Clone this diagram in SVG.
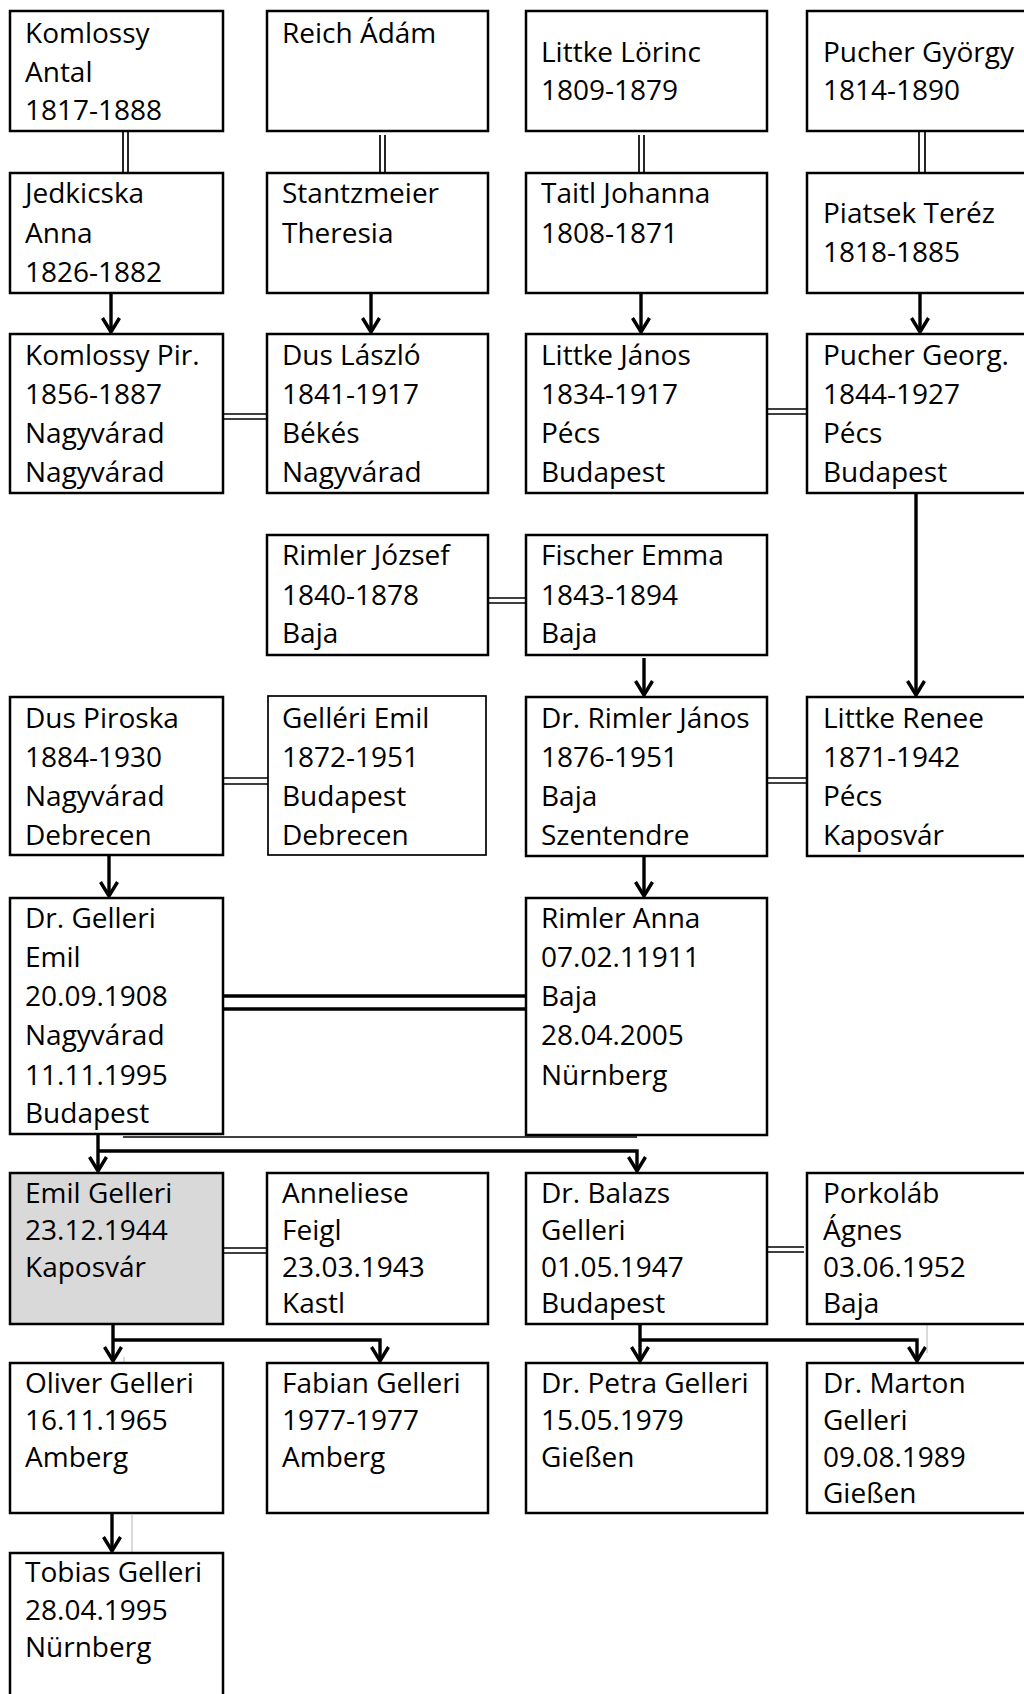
<svg xmlns="http://www.w3.org/2000/svg" width="1024" height="1694" viewBox="0 0 1024 1694">
<style>
.box{fill:#fff;stroke:#000;stroke-width:2.5}
.thin{stroke-width:1.7}
.grey{fill:#d9d9d9}
text{font-family:"Open Sans","Noto Sans","Liberation Sans",sans-serif;font-size:28px;fill:#000}
.arr{fill:none;stroke:#000;stroke-width:3.4;marker-end:url(#ah)}
.dbl{fill:none;stroke:#000;stroke-width:1.7}
.dblk{fill:none;stroke:#000;stroke-width:3.4}
.art{fill:none;stroke:#b4b4b4;stroke-width:1}
</style>
<defs>
<marker id="ah" markerUnits="userSpaceOnUse" viewBox="-18 -12 21 24" refX="0" refY="0" markerWidth="21" markerHeight="24" orient="auto">
<path d="M-14,-8.5 L0,0 L-14,8.5" fill="none" stroke="#000" stroke-width="3.4"/>
</marker>
</defs>
<rect width="1024" height="1694" fill="#fff"/>

<g id="connectors">
<path class="dbl" d="M123,131 V173 M128,131 V173"/>
<path class="dbl" d="M380,135 V174 M385,135 V174"/>
<path class="dbl" d="M639,135 V174 M644,135 V174"/>
<path class="dbl" d="M919,131 V173 M925,131 V173"/>
<path class="dbl" d="M223,414 H267 M223,419 H267"/>
<path class="dbl" d="M767,409 H807 M767,414 H807"/>
<path class="dbl" d="M488,598 H526 M488,603 H526"/>
<path class="dbl" d="M223,778 H268 M223,784 H268"/>
<path class="dbl" d="M767,778 H807 M767,783 H807"/>
<path class="dblk" d="M223,996 H526 M223,1009 H526"/>
<path class="dbl" d="M223,1248 H267 M223,1253 H267"/>
<path class="dbl" d="M767,1247 H804 M767,1252 H804"/>
<path class="arr" d="M111,293 V332"/>
<path class="arr" d="M371,293 V332"/>
<path class="arr" d="M641,293 V332"/>
<path class="arr" d="M920,293 V332"/>
<path class="arr" d="M916,493 V695"/>
<path class="arr" d="M644,658 V695"/>
<path class="arr" d="M109,855 V896"/>
<path class="arr" d="M644,856 V896"/>
<path class="arr" d="M98,1134 V1171"/>
<path class="arr" d="M98,1151 H637 V1171"/>
<path class="arr" d="M113,1324 V1361"/>
<path class="arr" d="M113,1340 H380 V1361"/>
<path class="arr" d="M112,1513 V1551"/>
<path class="arr" d="M640,1324 V1361"/>
<path class="arr" d="M640,1340 H917 V1361"/>
<path fill="none" stroke="#000" stroke-width="1.5" d="M123,1137 H637"/>
<path class="art" d="M124,1357 V1407 M132,1515 V1583 M927,1285 V1353"/>
</g>

<g id="n-komlossy-antal"><rect class="box" x="10" y="11" width="213" height="120"/>
<text x="25" y="43">Komlossy</text><text x="25" y="82">Antal</text><text x="25" y="120">1817-1888</text></g>
<g id="n-reich-adam"><rect class="box" x="267" y="11" width="221" height="120"/>
<text x="282" y="43">Reich Ádám</text></g>
<g id="n-littke-lorinc"><rect class="box" x="526" y="11" width="241" height="120"/>
<text x="541" y="62">Littke Lörinc</text><text x="541" y="100">1809-1879</text></g>
<g id="n-pucher-gyorgy"><rect class="box" x="807" y="11" width="230" height="120"/>
<text x="823" y="62">Pucher György</text><text x="823" y="100">1814-1890</text></g>

<g id="n-jedkicska-anna"><rect class="box" x="10" y="173" width="213" height="120"/>
<text x="25" y="203">Jedkicska</text><text x="25" y="243">Anna</text><text x="25" y="282">1826-1882</text></g>
<g id="n-stantzmeier-theresia"><rect class="box" x="267" y="173" width="221" height="120"/>
<text x="282" y="203">Stantzmeier</text><text x="282" y="243">Theresia</text></g>
<g id="n-taitl-johanna"><rect class="box" x="526" y="173" width="241" height="120"/>
<text x="541" y="203">Taitl Johanna</text><text x="541" y="243">1808-1871</text></g>
<g id="n-piatsek-terez"><rect class="box" x="807" y="173" width="230" height="120"/>
<text x="823" y="223">Piatsek Teréz</text><text x="823" y="262">1818-1885</text></g>

<g id="n-komlossy-pir"><rect class="box" x="10" y="334" width="213" height="159"/>
<text x="25" y="365">Komlossy Pir.</text><text x="25" y="404">1856-1887</text><text x="25" y="443">Nagyvárad</text><text x="25" y="482">Nagyvárad</text></g>
<g id="n-dus-laszlo"><rect class="box" x="267" y="334" width="221" height="159"/>
<text x="282" y="365">Dus László</text><text x="282" y="404">1841-1917</text><text x="282" y="443">Békés</text><text x="282" y="482">Nagyvárad</text></g>
<g id="n-littke-janos"><rect class="box" x="526" y="334" width="241" height="159"/>
<text x="541" y="365">Littke János</text><text x="541" y="404">1834-1917</text><text x="541" y="443">Pécs</text><text x="541" y="482">Budapest</text></g>
<g id="n-pucher-georg"><rect class="box" x="807" y="334" width="230" height="159"/>
<text x="823" y="365">Pucher Georg.</text><text x="823" y="404">1844-1927</text><text x="823" y="443">Pécs</text><text x="823" y="482">Budapest</text></g>

<g id="n-rimler-jozsef"><rect class="box" x="267" y="535" width="221" height="120"/>
<text x="282" y="565">Rimler József</text><text x="282" y="605">1840-1878</text><text x="282" y="643">Baja</text></g>
<g id="n-fischer-emma"><rect class="box" x="526" y="535" width="241" height="120"/>
<text x="541" y="565">Fischer Emma</text><text x="541" y="605">1843-1894</text><text x="541" y="643">Baja</text></g>

<g id="n-dus-piroska"><rect class="box" x="10" y="697" width="213" height="158"/>
<text x="25" y="728">Dus Piroska</text><text x="25" y="767">1884-1930</text><text x="25" y="806">Nagyvárad</text><text x="25" y="845">Debrecen</text></g>
<g id="n-gelleri-emil-1872"><rect class="box thin" x="268" y="696" width="218" height="159"/>
<text x="282" y="728">Gelléri Emil</text><text x="282" y="767">1872-1951</text><text x="282" y="806">Budapest</text><text x="282" y="845">Debrecen</text></g>
<g id="n-rimler-janos"><rect class="box" x="526" y="697" width="241" height="159"/>
<text x="541" y="728">Dr. Rimler János</text><text x="541" y="767">1876-1951</text><text x="541" y="806">Baja</text><text x="541" y="845">Szentendre</text></g>
<g id="n-littke-renee"><rect class="box" x="807" y="697" width="230" height="159"/>
<text x="823" y="728">Littke Renee</text><text x="823" y="767">1871-1942</text><text x="823" y="806">Pécs</text><text x="823" y="845">Kaposvár</text></g>

<g id="n-gelleri-emil-1908"><rect class="box" x="10" y="898" width="213" height="236"/>
<text x="25" y="928">Dr. Gelleri</text><text x="25" y="967">Emil</text><text x="25" y="1006">20.09.1908</text><text x="25" y="1045">Nagyvárad</text><text x="25" y="1085">11.11.1995</text><text x="25" y="1123">Budapest</text></g>
<g id="n-rimler-anna"><rect class="box" x="526" y="898" width="241" height="237"/>
<text x="541" y="928">Rimler Anna</text><text x="541" y="967">07.02.11911</text><text x="541" y="1006">Baja</text><text x="541" y="1045">28.04.2005</text><text x="541" y="1085">Nürnberg</text></g>

<g id="n-emil-gelleri-1944"><rect class="box grey" x="10" y="1173" width="213" height="151"/>
<text x="25" y="1203">Emil Gelleri</text><text x="25" y="1240">23.12.1944</text><text x="25" y="1277">Kaposvár</text></g>
<g id="n-anneliese-feigl"><rect class="box" x="267" y="1173" width="221" height="151"/>
<text x="282" y="1203">Anneliese</text><text x="282" y="1240">Feigl</text><text x="282" y="1277">23.03.1943</text><text x="282" y="1313">Kastl</text></g>
<g id="n-balazs-gelleri"><rect class="box" x="526" y="1173" width="241" height="151"/>
<text x="541" y="1203">Dr. Balazs</text><text x="541" y="1240">Gelleri</text><text x="541" y="1277">01.05.1947</text><text x="541" y="1313">Budapest</text></g>
<g id="n-porkolab-agnes"><rect class="box" x="807" y="1173" width="230" height="151"/>
<text x="823" y="1203">Porkoláb</text><text x="823" y="1240">Ágnes</text><text x="823" y="1277">03.06.1952</text><text x="823" y="1313">Baja</text></g>

<g id="n-oliver-gelleri"><rect class="box" x="10" y="1363" width="213" height="150"/>
<text x="25" y="1393">Oliver Gelleri</text><text x="25" y="1430">16.11.1965</text><text x="25" y="1467">Amberg</text></g>
<g id="n-fabian-gelleri"><rect class="box" x="267" y="1363" width="221" height="150"/>
<text x="282" y="1393">Fabian Gelleri</text><text x="282" y="1430">1977-1977</text><text x="282" y="1467">Amberg</text></g>
<g id="n-petra-gelleri"><rect class="box" x="526" y="1363" width="241" height="150"/>
<text x="541" y="1393">Dr. Petra Gelleri</text><text x="541" y="1430">15.05.1979</text><text x="541" y="1467">Gießen</text></g>
<g id="n-marton-gelleri"><rect class="box" x="807" y="1363" width="230" height="150"/>
<text x="823" y="1393">Dr. Marton</text><text x="823" y="1430">Gelleri</text><text x="823" y="1467">09.08.1989</text><text x="823" y="1503">Gießen</text></g>

<g id="n-tobias-gelleri"><rect class="box" x="10" y="1553" width="213" height="160"/>
<text x="25" y="1582">Tobias Gelleri</text><text x="25" y="1620">28.04.1995</text><text x="25" y="1657">Nürnberg</text></g>
</svg>
